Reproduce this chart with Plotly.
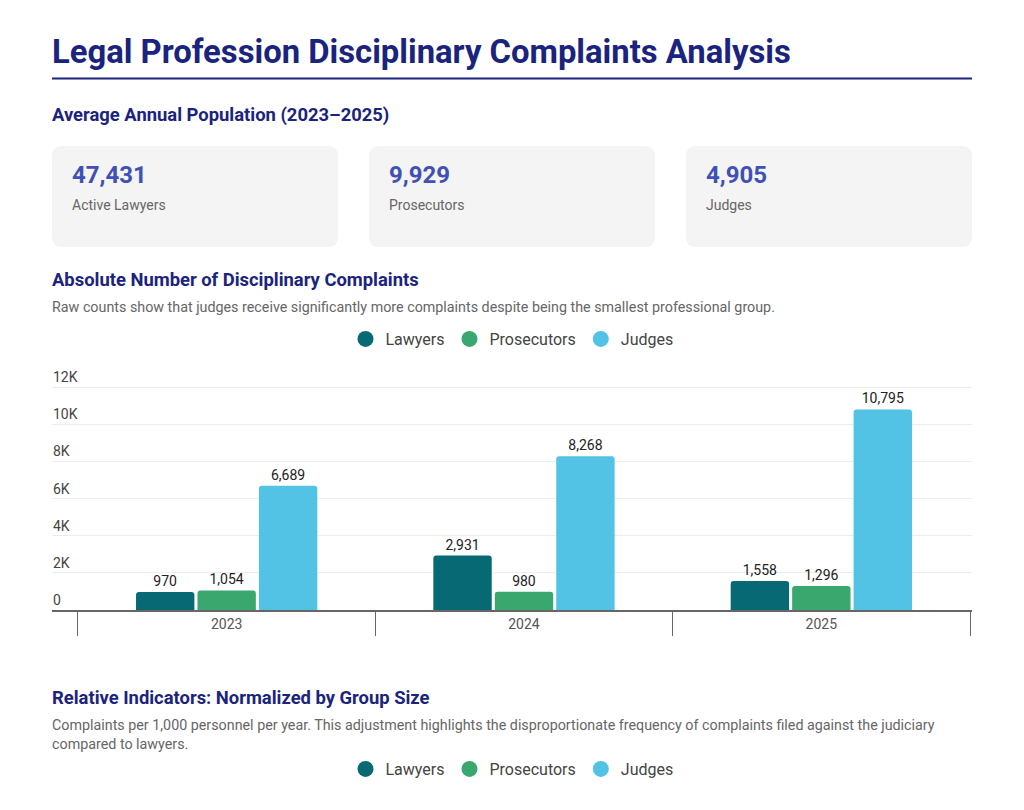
import plotly.graph_objects as go

# ---- data ----
years = ["2023", "2024", "2025"]
groups = ["Lawyers", "Prosecutors", "Judges"]
lawyers = [970, 2931, 1558]
prosecutors = [1054, 980, 1296]
judges = [6689, 8268, 10795]
pop_values = ["47,431", "9,929", "4,905"]
pop_labels = ["Active Lawyers", "Prosecutors", "Judges"]
y_tickvals = [0, 2000, 4000, 6000, 8000, 10000, 12000]
y_ticktext = ["0", "2K", "4K", "6K", "8K", "10K", "12K"]

colors = ["#066973", "#3aa86e", "#52c2e5"]
NAVY = "#1a237e"
FONT = "Roboto"

W, H = 1024, 810
L, R = 52, 972          # plot left/right in px
BOT = 610               # y=0 pixel
PX_PER_UNIT = 223 / 12000
YMAX = 13400
TOP = BOT - PX_PER_UNIT * YMAX


def px(x):
    return (x - L) / (R - L)


def py(y):
    return (BOT - y) / (BOT - TOP)


fig = go.Figure()

series = [lawyers, prosecutors, judges]
for name, vals, col in zip(groups, series, colors):
    fig.add_trace(go.Bar(
        x=years, y=vals, name=name, marker=dict(color=col, cornerradius=3, line=dict(width=0)),
        text=vals, texttemplate="%{y:,}", textposition="outside",
        textfont=dict(family=FONT, size=14, color="#222"),
        cliponaxis=False, showlegend=False, hoverinfo="x+y+name",
    ))

# legend entries (circles) for both charts
for lg in ["legend", "legend2"]:
    for name, col in zip(groups, colors):
        fig.add_trace(go.Scatter(
            x=[None], y=[None], mode="markers", name=name,
            marker=dict(color=col, size=17, symbol="circle"),
            legend=lg, showlegend=True,
        ))

# helper traces: overlay axes carrying category boundary ticks (x2) and y tick labels (y2)
fig.add_trace(go.Scatter(x=[None], y=[None], xaxis="x2", yaxis="y", showlegend=False, hoverinfo="skip"))
fig.add_trace(go.Scatter(x=[None], y=[None], xaxis="x", yaxis="y2", showlegend=False, hoverinfo="skip"))

shapes = []
annotations = []


def text(t, x, y, size, color, bold=False, align="left"):
    annotations.append(dict(text=(f"<b>{t}</b>" if bold else t), x=px(x), y=py(y),
                            xref="paper", yref="paper", xanchor="left", yanchor="middle",
                            align=align, showarrow=False, font=dict(family=FONT, size=size, color=color)))


# title + underline
text("Legal Profession Disciplinary Complaints Analysis", 50, 52, 32.8, NAVY, bold=True)
shapes.append(dict(type="line", xref="paper", yref="paper", x0=px(52), x1=px(972), y0=py(78.5), y1=py(78.5),
                   line=dict(color=NAVY, width=2)))

text("Average Annual Population (2023–2025)", 50, 115, 18.4, NAVY, bold=True)

# cards
card_x = [52, 369, 686]
card_w = 286
cy0, cy1 = 146, 247
rad = 10
for cx, val, lab in zip(card_x, pop_values, pop_labels):
    x0, x1 = cx, cx + card_w
    rx = rad / (R - L)
    ry = rad / (BOT - TOP)
    X0, X1 = px(x0), px(x1)
    Yt, Yb = py(cy0), py(cy1)
    path = (f"M {X0+rx},{Yt} L {X1-rx},{Yt} Q {X1},{Yt} {X1},{Yt-ry} "
            f"L {X1},{Yb+ry} Q {X1},{Yb} {X1-rx},{Yb} "
            f"L {X0+rx},{Yb} Q {X0},{Yb} {X0},{Yb+ry} "
            f"L {X0},{Yt-ry} Q {X0},{Yt} {X0+rx},{Yt} Z")
    shapes.append(dict(type="path", path=path, xref="paper", yref="paper",
                       fillcolor="#f4f4f4", line=dict(width=0), layer="below"))
    text(val, cx + 18, 175, 24, "#3f51b5", bold=True)
    text(lab, cx + 18, 205, 14, "#666")

text("Absolute Number of Disciplinary Complaints", 50, 279, 18.4, NAVY, bold=True)
text("Raw counts show that judges receive significantly more complaints despite being the smallest professional group.",
     50, 307, 14.3, "#666")

text("Relative Indicators: Normalized by Group Size", 50, 698, 18.4, NAVY, bold=True)
text("Complaints per 1,000 personnel per year. This adjustment highlights the disproportionate frequency of complaints filed against the judiciary<br>compared to lawyers.",
     50, 735, 14.3, "#666")

n_cat = len(years)
xrange_ = [-0.5 - 26 / 297.5, n_cat - 0.5 + 2 / 297.5]
fig.update_layout(
    width=W, height=H,
    margin=dict(l=L, r=W - R, t=TOP, b=H - BOT, pad=0),
    paper_bgcolor="white", plot_bgcolor="white",
    font=dict(family=FONT, color="#444"),
    barmode="group", bargap=0.38, bargroupgap=0.05,
    shapes=shapes, annotations=annotations,
    legend=dict(orientation="h", x=0.5, xanchor="center", y=py(339), yanchor="middle",
                font=dict(family=FONT, size=16, color="#444"), itemclick=False, bgcolor="rgba(0,0,0,0)"),
    legend2=dict(orientation="h", x=0.5, xanchor="center", y=py(769), yanchor="middle",
                 font=dict(family=FONT, size=16, color="#444"), itemclick=False, bgcolor="rgba(0,0,0,0)"),
    xaxis=dict(type="category", range=xrange_, anchor="y",
               showline=True, linecolor="#666", linewidth=2, ticks="",
               tickfont=dict(family=FONT, size=14, color="#555"),
               showgrid=False, fixedrange=True),
    xaxis2=dict(overlaying="x", anchor="y", side="bottom", range=xrange_,
                tickvals=[i - 0.5 for i in range(n_cat + 1)], ticktext=[""] * (n_cat + 1),
                ticks="outside", ticklen=25, tickcolor="#666", tickwidth=1,
                showgrid=False, showline=False, zeroline=False, fixedrange=True),
    yaxis=dict(range=[0, YMAX], tickvals=y_tickvals, showticklabels=False,
               showgrid=True, gridcolor="#ececec", gridwidth=1, zeroline=False, showline=False,
               ticks="", fixedrange=True),
    yaxis2=dict(overlaying="y", anchor="x", side="left", range=[0, YMAX],
                tickvals=y_tickvals, ticktext=y_ticktext,
                ticklabelposition="inside top", ticklabelstandoff=-2,
                tickfont=dict(family=FONT, size=14, color="#444"),
                showgrid=False, zeroline=False, showline=False, ticks="", fixedrange=True),
)

fig.write_html("out.html", config={"displayModeBar": False},
               post_script="document.body.style.margin='0';")
